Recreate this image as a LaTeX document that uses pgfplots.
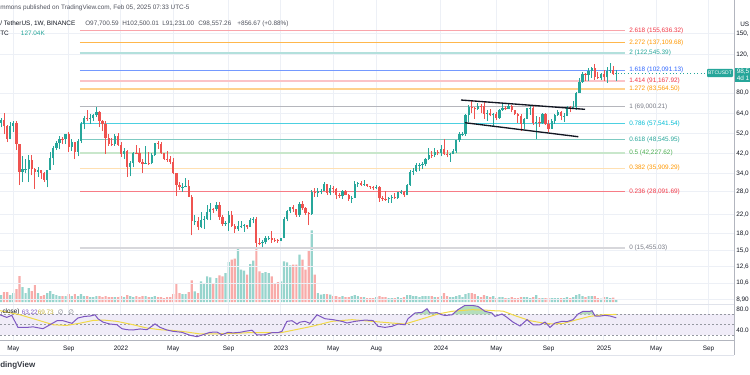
\documentclass[border=0pt]{standalone}
\usepackage{pgfplots}
\pgfplotsset{compat=1.18}
\usepackage{pgfplotstable}
\usepackage{fontspec}
\setmainfont{Liberation Sans}
\newfontfamily\djv{DejaVu Sans}
\definecolor{up}{HTML}{26A69A}
\definecolor{dn}{HTML}{EF5350}
\definecolor{vup}{HTML}{97D4CD}
\definecolor{vdn}{HTML}{F8ABA9}
\definecolor{gridc}{HTML}{EDF0F6}
\definecolor{txt}{HTML}{131722}
\definecolor{txtg}{HTML}{50535E}
\definecolor{rsil}{HTML}{7E57C2}
\definecolor{rsima}{HTML}{F2DA48}
\definecolor{rsiband}{HTML}{F0ECF8}
\definecolor{obg}{HTML}{B5DEBC}
\definecolor{bandl}{HTML}{9598A1}
\definecolor{axl}{HTML}{B2B5BE}
\definecolor{sepl}{HTML}{E0E3EB}
\definecolor{fRed}{HTML}{F23645}
\definecolor{fOra}{HTML}{FF9800}
\definecolor{fTeal}{HTML}{26A69A}
\definecolor{fBlue}{HTML}{2962FF}
\definecolor{fGrey}{HTML}{787B86}
\definecolor{fCyan}{HTML}{00BCD4}
\definecolor{fGreen}{HTML}{4CAF50}
\newcommand\tvf{\fontsize{4.8}{5.6}\selectfont}

\pgfplotstableread{
w o h l c v
0 55.8 60.2 55.5 58.2 400
1 58.2 61.3 55.5 60.0 350
2 60.0 64.9 51.5 56.2 500
3 56.2 56.8 47.5 49.1 500
4 49.1 58.5 48.8 56.6 350
5 56.6 59.5 52.9 58.2 450
6 58.2 59.6 43.8 46.4 650
7 46.4 46.6 30.0 34.7 1300
8 34.7 40.9 31.0 35.7 750
9 35.7 39.5 34.0 35.8 450
10 35.8 41.3 31.0 39.1 700
11 39.1 41.3 33.3 35.6 550
12 35.6 36.0 28.8 34.7 850
13 34.7 36.6 32.7 35.3 450
14 35.3 35.4 32.1 34.3 300
15 34.3 34.7 31.0 31.8 350
16 31.8 35.4 29.3 35.4 450
17 35.4 42.6 35.2 39.9 550
18 39.9 45.3 37.3 44.6 400
19 44.6 48.1 43.8 47.0 350
20 47.0 50.5 43.9 49.0 300
21 49.0 50.0 46.3 48.8 300
22 48.8 52.0 46.4 51.8 300
23 51.8 52.9 42.8 45.2 400
24 45.2 48.8 43.4 47.3 300
25 47.3 47.4 39.6 42.9 400
26 42.9 49.2 40.8 48.2 300
27 48.2 58.5 46.9 57.5 400
28 57.5 62.9 54.4 61.5 300
29 61.5 67.0 59.5 61.0 300
30 61.0 63.7 57.8 61.3 250
31 61.3 64.3 59.4 63.3 250
32 63.3 69.0 62.3 65.5 300
33 65.5 66.3 55.6 59.7 300
34 59.7 59.9 53.3 57.3 250
35 57.3 59.2 42.0 49.4 300
36 49.4 51.9 45.7 46.7 250
37 46.7 49.5 45.5 46.6 250
38 46.6 51.9 45.6 50.8 250
39 50.8 52.1 45.7 46.2 250
40 46.2 47.6 40.6 41.9 300
41 41.9 44.4 39.6 43.1 250
42 43.1 43.5 32.9 36.3 350
43 36.3 38.9 33.0 37.9 300
44 37.9 42.6 36.3 42.4 250
45 42.4 45.8 41.7 42.2 300
46 42.2 44.8 38.0 38.4 250
47 38.4 39.8 34.3 37.7 300
48 37.7 45.4 37.5 38.0 300
49 38.0 42.6 37.2 37.8 250
50 37.8 42.3 37.5 41.3 250
51 41.3 46.9 40.9 46.8 300
52 46.8 48.2 44.2 46.4 250
53 46.4 47.5 41.9 42.2 250
54 42.2 42.4 39.2 39.7 200
55 39.7 43.0 38.5 39.5 250
56 39.5 40.8 37.6 38.5 250
57 38.5 40.0 33.7 34.3 400
58 34.3 34.3 26.7 30.1 900
59 30.1 31.0 28.6 29.4 450
60 29.4 30.6 28.0 29.5 400
61 29.5 32.4 29.3 29.9 400
62 29.9 31.8 26.5 26.6 500
63 26.6 26.9 17.6 20.5 1085
64 20.5 21.9 19.6 20.6 535
65 20.6 21.5 18.6 19.3 450
66 19.3 22.5 19.0 20.8 1035
67 20.8 21.7 18.9 20.9 950
68 20.9 24.3 20.8 22.6 1285
69 22.6 24.7 20.7 23.3 1235
70 23.3 23.6 22.4 23.2 915
71 23.2 25.2 22.7 24.3 1200
72 24.3 25.2 20.8 21.5 1335
73 21.5 21.8 19.5 19.9 1285
74 19.9 20.6 19.5 20.0 1450
75 20.0 22.8 18.5 21.8 2000
76 21.8 22.7 19.3 19.4 2115
77 19.4 19.9 18.1 18.8 2165
78 18.8 20.4 18.5 19.4 2650
79 19.4 20.5 19.1 19.5 1615
80 19.5 19.9 18.2 19.6 1565
81 19.6 19.7 18.9 19.2 1365
82 19.2 21.1 19.2 20.8 1900
83 20.8 21.5 20.0 21.0 2065
84 21.0 21.5 15.6 16.3 2750
85 16.3 17.2 15.8 16.2 1535
86 16.2 16.8 15.5 16.4 1450
87 16.4 17.4 16.0 17.1 1500
88 17.1 17.4 16.7 17.2 1450
89 17.2 18.4 16.3 16.8 1285
90 16.8 17.1 16.4 16.7 950
91 16.7 16.9 16.3 16.6 1000
92 16.6 17.2 16.5 17.1 1035
93 17.1 21.3 17.1 20.9 2035
94 20.9 23.0 20.4 22.7 1985
95 22.7 23.9 22.3 23.7 1835
96 23.7 24.3 22.5 23.3 1865
97 23.3 23.4 21.4 21.8 1865
98 21.8 25.2 21.5 24.6 2365
99 24.6 25.3 23.1 23.5 2115
100 23.5 23.9 21.9 22.4 1615
101 22.4 22.6 19.6 22.1 2565
102 22.1 28.4 21.9 28.0 3585
103 28.0 29.2 26.6 27.5 1365
104 27.5 29.2 26.5 28.2 450
105 28.2 28.8 27.2 28.3 365
106 28.3 31.0 28.2 30.3 400
107 30.3 30.5 27.1 27.6 400
108 27.6 30.0 26.9 29.2 365
109 29.2 29.8 27.7 28.9 300
110 28.9 29.0 25.8 26.9 300
111 26.9 27.7 26.2 26.7 250
112 26.7 28.4 25.9 28.1 300
113 28.1 28.4 26.9 27.1 250
114 27.1 27.4 25.4 25.9 250
115 25.9 26.8 24.8 26.3 300
116 26.3 31.4 26.2 30.5 350
117 30.5 31.0 29.5 30.6 300
118 30.6 31.4 29.7 30.2 250
119 30.2 31.8 29.9 30.3 250
120 30.3 30.4 29.5 29.8 200
121 29.8 29.9 28.9 29.3 200
122 29.3 29.7 28.6 29.0 200
123 29.0 30.2 28.7 29.3 250
124 29.3 29.7 25.2 26.1 300
125 26.1 26.8 25.4 26.0 250
126 26.0 28.1 25.4 25.8 250
127 25.8 26.4 24.9 26.2 200
128 26.2 27.0 24.9 26.5 200
129 26.5 27.5 26.0 26.2 200
130 26.2 28.0 26.0 27.9 250
131 27.9 28.6 27.2 28.0 200
132 28.0 28.1 26.5 26.9 250
133 26.9 30.3 26.9 30.0 350
134 30.0 35.2 29.8 34.5 350
135 34.5 35.9 33.4 35.0 300
136 35.0 38.0 34.5 37.1 300
137 37.1 37.9 34.8 37.4 250
138 37.4 38.4 35.6 37.5 300
139 37.5 40.0 36.7 39.5 300
140 39.5 44.7 39.2 41.4 300
141 41.4 43.4 40.2 41.3 300
142 41.3 44.4 40.6 42.6 250
143 42.6 43.8 41.3 42.3 250
144 42.3 45.9 40.8 43.9 300
145 43.9 49.0 41.5 41.7 450
146 41.7 43.6 40.3 41.6 300
147 41.6 42.2 38.6 42.0 250
148 42.0 43.9 41.9 43.0 250
149 43.0 48.5 42.3 48.3 300
150 48.3 52.8 47.7 51.7 350
151 51.7 52.9 50.5 51.8 250
152 51.8 64.0 50.9 63.1 400
153 63.1 70.2 59.0 68.9 450
154 68.9 73.8 64.5 68.4 450
155 68.4 68.9 60.8 67.2 400
156 67.2 71.8 66.8 69.6 300
157 69.6 71.3 64.5 69.4 250
158 69.4 72.8 61.0 64.0 350
159 64.0 66.9 59.6 64.9 300
160 64.9 67.2 62.4 63.1 250
161 63.1 64.7 56.5 63.9 300
162 63.9 65.5 60.2 61.5 200
163 61.5 67.7 60.7 66.9 250
164 66.9 71.9 66.3 68.5 250
165 68.5 70.0 66.6 67.8 200
166 67.8 72.0 67.6 69.6 200
167 69.6 70.2 65.1 66.6 250
168 66.6 67.0 63.4 64.2 200
169 64.2 64.5 58.4 62.7 200
170 62.7 63.9 53.5 57.8 250
171 57.8 61.5 54.3 60.8 250
172 60.8 68.4 60.6 68.2 250
173 68.2 69.4 63.5 68.3 200
174 68.3 70.0 57.1 58.1 250
175 58.1 62.7 49.0 58.7 350
176 58.7 61.8 56.0 58.4 200
177 58.4 65.0 57.8 64.2 200
178 64.2 64.9 57.2 57.3 200
179 57.3 59.8 52.6 54.8 200
180 54.8 60.6 54.6 59.2 200
181 59.2 64.1 57.6 63.6 200
182 63.6 66.5 62.7 65.6 200
183 65.6 66.0 59.8 62.8 200
184 62.8 64.5 58.9 62.9 200
185 62.9 69.4 62.5 69.0 250
186 69.0 69.5 65.1 68.0 200
187 68.0 73.6 67.5 68.7 250
188 68.7 80.5 66.8 80.4 350
189 80.4 93.5 80.2 89.8 400
190 89.8 99.6 89.4 98.0 300
191 98.0 98.9 90.8 97.2 250
192 97.2 104.1 90.5 101.1 300
193 101.1 105.2 94.2 104.5 300
194 104.5 108.4 92.2 95.2 300
195 95.2 99.9 92.5 93.7 200
196 93.7 99.0 91.5 98.3 175
197 98.3 102.7 91.2 94.5 250
198 94.5 105.9 89.3 101.3 250
199 101.3 109.6 99.5 102.6 200
200 102.6 106.5 97.2 97.70059 225
201 97.70059 102.50001 91.231 98.55726 127.04
}\ohlc

\pgfplotsset{tvaxis/.style={anchor=south west, scale only axis, width=550.5pt,
  xmin=0.67, xmax=239.26, clip=true}}

\begin{document}
\begin{tikzpicture}
\useasboundingbox (0pt,0pt) rectangle (562.5pt,-281.25pt);
\fill[white] (0pt,0pt) rectangle (562.5pt,-281.25pt);

% ---------- volume ----------
\begin{axis}[tvaxis, at={(0pt,-226.5pt)}, height=204pt, ymin=0, ymax=13600, hide axis]
\addplot[ybar, bar width=1.65pt, bar shift=0pt, fill=vup, draw=none]
  table[x expr={\thisrow{c}>=\thisrow{o} ? \thisrow{w} : -100}, y=v]{\ohlc};
\addplot[ybar, bar width=1.65pt, bar shift=0pt, fill=vdn, draw=none]
  table[x expr={\thisrow{c}<\thisrow{o} ? \thisrow{w} : -100}, y=v]{\ohlc};
\end{axis}

% ---------- price ----------
\begin{axis}[tvaxis, at={(0pt,-228pt)}, height=228pt, ymode=log, ymin=8.48, ymax=215.16,
  axis line style={draw=none}, major tick length=0pt,
  xtick={5,23,40,57,75,92,109,123,144,162,179,197,214,231}, xticklabels={},
  ytick={8.9,10.6,12.6,15,18,22,28,34,42,52,64,80,120,150},
  yticklabels={{8,90},{10,6},{12,6},{15,0},{18,0},{22,0},{28,0},{34,0},{42,0},{52,0},{64,0},{80,0},{120,},{150,}},
  yticklabel pos=right, yticklabel style={anchor=west, inner sep=0pt, xshift=1.5pt, font=\tvf, text=txt},
  xmajorgrids, ymajorgrids, grid style={gridc, line width=0.75pt}]
% fib levels
\addplot[color=fGrey!30, line width=1.5pt] coordinates {(26.67,15.45503)(203.8,15.45503)};
\addplot[color=fRed!65, line width=0.75pt] coordinates {(26.67,28.09169)(203.8,28.09169)};
\addplot[color=fOra!30, line width=1.2pt] coordinates {(26.67,35.90929)(203.8,35.90929)};
\addplot[color=fGreen!30, line width=0.9pt] coordinates {(26.67,42.22762)(203.8,42.22762)};
\addplot[color=fTeal!60, line width=0.75pt] coordinates {(26.67,48.54595)(203.8,48.54595)};
\addplot[color=fCyan!70, line width=0.75pt] coordinates {(26.67,57.54154)(203.8,57.54154)};
\addplot[color=fGrey!55, line width=0.75pt] coordinates {(26.67,69.00021)(203.8,69.00021)};
\addplot[color=fOra!45, line width=0.9pt] coordinates {(26.67,83.5645)(203.8,83.5645)};
\addplot[color=fRed!30, line width=1.2pt] coordinates {(26.67,91.16792)(203.8,91.16792)};
\addplot[color=fBlue!65, line width=0.75pt] coordinates {(26.67,102.09113)(203.8,102.09113)};
\addplot[color=fTeal!35, line width=1.3pt] coordinates {(26.67,122.54539)(203.8,122.54539)};
\addplot[color=fOra!70, line width=0.75pt] coordinates {(26.67,137.10968)(203.8,137.10968)};
\addplot[color=fRed!45, line width=0.75pt] coordinates {(26.67,155.63632)(203.8,155.63632)};
% wicks
\addplot[draw=none, mark=none, error bars/.cd, y dir=plus, y explicit, error mark=none,
  error bar style={draw=up, line width=0.6pt, solid}]
  table[x expr={\thisrow{c}>=\thisrow{o} ? \thisrow{w} : -100}, y=l, y error expr={\thisrow{h}-\thisrow{l}}]{\ohlc};
\addplot[draw=none, mark=none, error bars/.cd, y dir=plus, y explicit, error mark=none,
  error bar style={draw=dn, line width=0.6pt, solid}]
  table[x expr={\thisrow{c}<\thisrow{o} ? \thisrow{w} : -100}, y=l, y error expr={\thisrow{h}-\thisrow{l}}]{\ohlc};
% bodies
\addplot[draw=none, mark=none, error bars/.cd, y dir=plus, y explicit, error mark=none,
  error bar style={draw=up, line width=1.7pt, solid}]
  table[x expr={\thisrow{c}>=\thisrow{o} ? \thisrow{w} : -100}, y=o, y error expr={\thisrow{c}-\thisrow{o}}]{\ohlc};
\addplot[draw=none, mark=none, error bars/.cd, y dir=plus, y explicit, error mark=none,
  error bar style={draw=dn, line width=1.7pt, solid}]
  table[x expr={\thisrow{c}<\thisrow{o} ? \thisrow{w} : -100}, y=c, y error expr={\thisrow{o}-\thisrow{c}}]{\ohlc};
% trend lines
\addplot[txt, line width=1pt] coordinates {(150.52,74.26)(190.83,67.26)};
\addplot[txt, line width=1pt] coordinates {(151.8,58.33)(188.65,50.25)};
% current price line
\addplot[up, dotted, line width=0.6pt] coordinates {(201.4,98.55726)(239.26,98.55726)};
% fib labels
\begin{scope}[every node/.style={anchor=west, inner sep=0pt, font=\tvf}]
\node[text=fGrey] at (axis cs:205.13,15.45503) {0 (15,455.03)};
\node[text=fRed] at (axis cs:205.13,28.09169) {0.236 (28,091.69)};
\node[text=fOra] at (axis cs:205.13,35.90929) {0.382 (35,909.29)};
\node[text=fGreen] at (axis cs:205.13,42.22762) {0.5 (42,227.62)};
\node[text=fTeal] at (axis cs:205.13,48.54595) {0.618 (48,545.95)};
\node[text=fCyan] at (axis cs:205.13,57.54154) {0.786 (57,541.54)};
\node[text=fGrey] at (axis cs:205.13,69.00021) {1 (69,000.21)};
\node[text=fOra] at (axis cs:205.13,83.5645) {1.272 (83,564.50)};
\node[text=fRed] at (axis cs:205.13,91.16792) {1.414 (91,167.92)};
\node[text=fBlue] at (axis cs:205.13,102.09113) {1.618 (102,091.13)};
\node[text=fTeal] at (axis cs:205.13,122.54539) {2 (122,545.39)};
\node[text=fOra] at (axis cs:205.13,137.10968) {2.272 (137,109.68)};
\node[text=fRed] at (axis cs:205.13,155.63632) {2.618 (155,636.32)};
\end{scope}
\end{axis}

% ---------- RSI ----------
\begin{axis}[tvaxis, at={(0pt,-255pt)}, height=27pt, ymin=20.95, ymax=89.52,
  axis line style={draw=none}, major tick length=0pt,
  xtick={5,23,40,57,75,92,109,123,144,162,179,197,214,231},
  xticklabels={May,Sep,2022,May,Sep,2023,May,Aug,2024,May,Sep,2025,May,Sep},
  xticklabel style={font=\tvf, text=txt, anchor=north, inner sep=0pt, yshift=-4.3pt},
  xmajorgrids, grid style={gridc, line width=0.75pt},
  ytick={40,80}, yticklabels={40.0,80.0},
  yticklabel pos=right, yticklabel style={anchor=west, inner sep=0pt, xshift=1.5pt, font=\tvf, text=txt}]
\addplot[draw=none, fill=rsiband] coordinates {(0.67,30)(239.26,30)(239.26,70)(0.67,70)};
\addplot[bandl, line width=0.5pt, dash pattern=on 1.5pt off 1.5pt] coordinates {(0.67,70)(239.26,70)};
\addplot[bandl, line width=0.5pt, dash pattern=on 1.5pt off 1.5pt] coordinates {(0.67,50)(239.26,50)};
\addplot[bandl, line width=0.5pt, dash pattern=on 1.5pt off 1.5pt] coordinates {(0.67,30)(239.26,30)};
% overbought fills
\addplot[draw=none, fill=obg] coordinates {(134.8,70)(135.57,72.4)(137.84,73.6)(139.47,80.6)(140.44,72.4)(142.72,73)(143.9,70)};
\addplot[draw=none, fill=obg] coordinates {(147.8,70)(149.54,78.7)(151.82,87)(154.1,87)(156.05,85)(158.32,75.6)(160.6,72.4)(160.9,70)};
\addplot[draw=none, fill=obg] coordinates {(188.45,70)(188.56,70.5)(190.19,75.6)(192.46,75.6)(193.11,76.8)(193.78,70)};
\addplot[rsima, line width=0.75pt] coordinates {(0.67,76.8)(7.17,69)(11.49,61.5)(17.99,50)(22.35,48.7)(26.67,53)(31.0,58.3)(34.25,59)(38.6,56.5)(44.0,50)(48.36,43.8)(52.68,40.6)(57.0,39)(61.36,36.2)(65.68,32.5)(70.0,32.5)(76.5,33.5)(81.38,34.9)(86.8,35)(91.04,35)(92.34,35.3)(102.09,47)(108.59,56.5)(115.09,59.7)(121.59,56.5)(128.09,53.3)(132.32,51.4)(138.82,62.9)(143.05,70.5)(147.6,75.6)(154.1,78.7)(158.32,78)(160.93,76.8)(164.18,76)(168.73,66)(172.96,57.7)(177.18,53.3)(180.43,51.4)(183.68,52.5)(188.23,59.7)(192.46,66)(196.68,69)(201,69.73)};
\addplot[rsil, line width=0.75pt] coordinates {(0.67,69)(2.85,64)(4.5,68)(6.5,45)(9.45,45)(11.4,46)(14.65,42.5)(16.9,50)(19.2,57.7)(21.15,57.7)(24.07,52.7)(26.0,62.9)(28.3,66)(29.9,66.5)(31.55,69)(32.5,61.5)(34.15,55)(36.4,51.4)(38.7,50)(40.3,42.5)(41.95,40.6)(43.9,40)(46.2,42)(48.45,40.6)(51.05,51.6)(52.7,45)(54.95,40)(56.9,37.5)(59.8,35.6)(62.4,30)(64.7,27.3)(66.65,31)(68.9,35.6)(71.2,36)(72.8,31)(74.8,35.6)(76.4,34.5)(78.7,35.6)(80.31,37.5)(82.58,39.6)(84.21,30.5)(86.81,31)(89.09,35)(91.04,35)(92.34,37.5)(93.96,56.5)(95.59,57.7)(97.21,51.4)(98.19,55)(99.81,56.5)(101.44,52.7)(103.72,69)(106.32,61.5)(108.92,59.7)(111.84,56.5)(113.47,53.3)(116.07,56.5)(119.32,58.9)(121.92,58)(123.54,47)(125.82,45)(128.09,47)(130.04,51.4)(132.32,50)(133.29,61.5)(135.57,72.4)(137.84,73.6)(139.47,80.6)(140.44,72.4)(142.72,73)(144.34,69)(145.32,67.6)(147.59,69)(149.54,78.7)(151.82,87)(154.1,87)(156.05,85)(158.32,75.6)(160.6,72.4)(161.58,66)(163.85,70.5)(165.48,64)(167.43,55)(169.70,47.6)(171.98,59.7)(173.93,50)(176.21,50)(177.83,55)(179.46,45)(181.08,53.3)(183.36,56.5)(184.98,56)(186.94,59.7)(188.56,70.5)(190.19,75.6)(192.46,75.6)(193.11,76.8)(194.09,66.7)(195.71,66.5)(197.34,68)(198.96,66.7)(201,63.22)};
\end{axis}

% ---------- decorations & text ----------
\begin{scope}[x=0.75pt, y=-0.75pt]
\draw[axl, line width=0.75pt] (734,0) -- (734,355);
\draw[sepl, line width=0.75pt] (0,304) -- (734,304);
\draw[axl, line width=0.75pt] (0,340) -- (734,340);
\draw[sepl, line width=0.75pt] (0,355) -- (734,355);
% price tags
\fill[up] (735,68) rectangle (760,82);
\node[anchor=west, inner sep=0pt, font=\tvf, text=white] at (736.5,72) {98,5};
\node[anchor=west, inner sep=0pt, font=\tvf, text=white] at (736.5,78.5) {4d 1};
\fill[up, rounded corners=0.8pt] (707,68.8) rectangle (733,77.2);
\node[inner sep=0pt, font=\fontsize{3.8}{4.6}\selectfont, text=white] at (720,73) {BTCUSDT};
\node[anchor=west, inner sep=0pt, font=\tvf, text=txt] at (740,24) {US};
% header
\node[anchor=west, inner sep=0pt, font=\tvf, text=txtg] at (0,7.5) {mmons published on TradingView.com, Feb 05, 2025 07:33 UTC-5};
\node[anchor=west, inner sep=0pt, font=\tvf, text=txt] at (0,24) {/ TetherUS, 1W, BINANCE};
\node[anchor=west, inner sep=0pt, font=\tvf, text=txtg] at (85,24) {O97,700.59};
\node[anchor=west, inner sep=0pt, font=\tvf, text=txtg] at (122,24) {H102,500.01};
\node[anchor=west, inner sep=0pt, font=\tvf, text=txtg] at (162,24) {L91,231.00};
\node[anchor=west, inner sep=0pt, font=\tvf, text=txtg] at (198,24) {C98,557.26};
\node[anchor=west, inner sep=0pt, font=\tvf, text=txtg] at (237,24) {+856.67 (+0.88\%)};
\node[anchor=west, inner sep=0pt, font=\tvf, text=txt] at (0,33.5) {TC};
\node[anchor=west, inner sep=0pt, font=\tvf, text=up] at (20.7,33.5) {127.04K};
% RSI legend
\node[anchor=west, inner sep=0pt, font=\tvf, text=txt] at (0.5,312) {,close)};
\node[anchor=west, inner sep=0pt, font=\tvf, text=rsil] at (21.5,312) {63.22};
\node[anchor=west, inner sep=0pt, font=\tvf, text=rsima!80!black] at (37.5,312) {69.73};
\node[anchor=west, inner sep=0pt, font=\fontsize{4.8}{5.6}\djv, text=fGrey] at (57.5,312) {∅};
\node[anchor=west, inner sep=0pt, font=\fontsize{4.8}{5.6}\djv, text=fGrey] at (68,312) {∅};
% logo
\node[anchor=west, inner sep=0pt, font=\fontsize{6}{7}\selectfont\bfseries, text=txt!85] at (0,365) {dingView};
\end{scope}
\end{tikzpicture}
\end{document}
